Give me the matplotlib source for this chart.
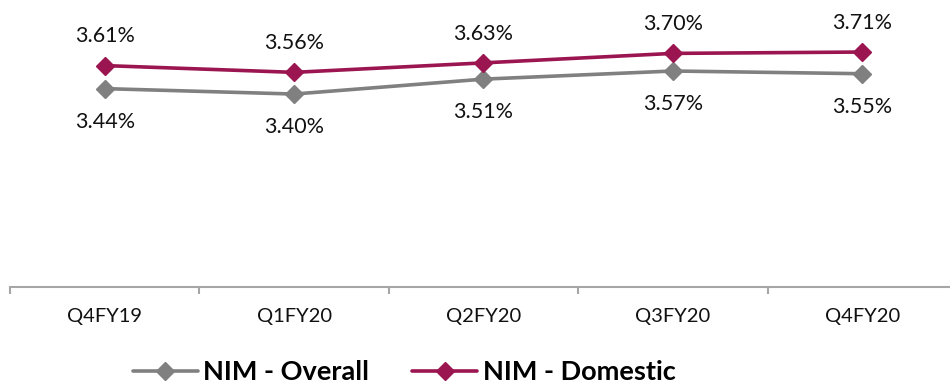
import matplotlib
matplotlib.use("Agg")
import matplotlib.pyplot as plt
import numpy as np

quarters = ["Q4FY19", "Q1FY20", "Q2FY20", "Q3FY20", "Q4FY20"]
nim_overall = [3.44, 3.40, 3.51, 3.57, 3.55]
nim_domestic = [3.61, 3.56, 3.63, 3.70, 3.71]

overall_color = "#808080"
domestic_color = "#9B1650"

plt.rcParams["font.family"] = ["Lato", "DejaVu Sans"]

fig = plt.figure(figsize=(9.5, 3.86), dpi=100)
ax = fig.add_axes([10 / 950, 99 / 386, 947 / 950, 287 / 386])

x = np.arange(len(quarters))
ax.plot(x, nim_overall, color=overall_color, lw=2.6, marker="D", ms=9,
        label="NIM - Overall", solid_capstyle="round")
ax.plot(x, nim_domestic, color=domestic_color, lw=2.6, marker="D", ms=9,
        label="NIM - Domestic", solid_capstyle="round")

for xi, v in zip(x, nim_domestic):
    ax.annotate(f"{v:.2f}%", (xi, v), xytext=(0, 21), textcoords="offset points",
                ha="center", va="center", fontsize=15.5, color="#111111")
for xi, v in zip(x, nim_overall):
    ax.annotate(f"{v:.2f}%", (xi, v), xytext=(0, -24), textcoords="offset points",
                ha="center", va="center", fontsize=15.5, color="#111111")

ax.set_xlim(-0.5, len(quarters) - 0.5)
ax.set_ylim(1.976, 4.094)

for side in ("top", "right", "left"):
    ax.spines[side].set_visible(False)
ax.spines["bottom"].set_color("#A6A6A6")
ax.spines["bottom"].set_linewidth(1.5)
ax.set_yticks([])

ax.set_xticks(x)
ax.set_xticklabels(quarters, fontsize=14.5, color="#111111")
ax.tick_params(axis="x", which="major", length=0, pad=15)
ax.set_xticks(np.arange(-0.5, len(quarters)), minor=True)
ax.tick_params(axis="x", which="minor", length=5, width=1.5, color="#A6A6A6",
               direction="out")

leg = fig.legend(loc="center", bbox_to_anchor=(404 / 950, 1 - 372 / 386), ncol=2,
                 frameon=False, handlelength=2.4, columnspacing=1.6,
                 handletextpad=0.2, prop={"weight": "bold", "size": 19.5})
for h in leg.legend_handles:
    h.set_markersize(9)

fig.savefig("out.png", dpi=100)
